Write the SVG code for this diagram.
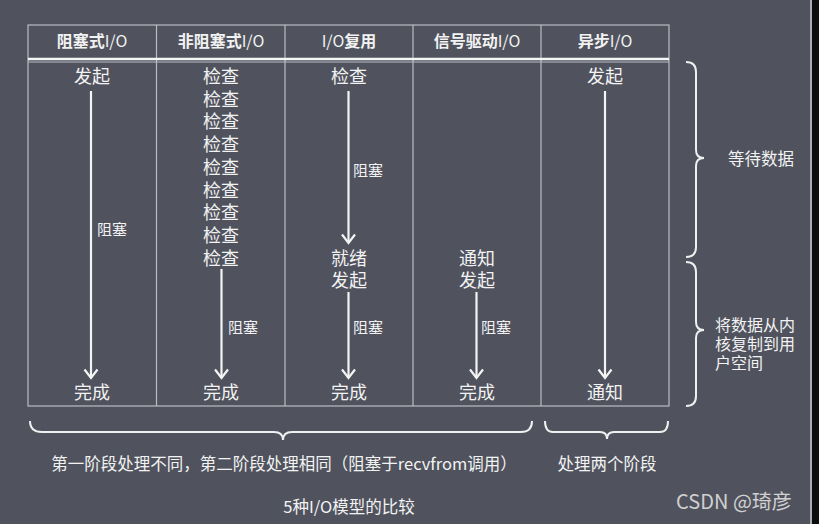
<svg xmlns="http://www.w3.org/2000/svg" width="819" height="524" viewBox="0 0 819 524">
<defs>
<style>
.t{font-family:"Noto Sans CJK SC","Noto Sans",sans-serif;fill:#f2f2f2;text-anchor:middle;dominant-baseline:central}
.k{font-family:"Liberation Sans","Noto Sans CJK SC",sans-serif}
.h{font-size:16px;font-weight:bold}
.b{font-size:18px}
.s{font-size:15px;text-anchor:start}
.c{font-size:16.5px}
.r{font-size:16px;text-anchor:start}
.grid{stroke:#b9bcc3;stroke-width:1.2;fill:none}
.arr{stroke:#f4f4f4;stroke-width:2.2;fill:none}
.br{stroke:#f0f0f0;stroke-width:2;fill:none}
</style>
<marker id="ah" viewBox="0 0 12 16" refX="10" refY="8" markerWidth="12" markerHeight="16" markerUnits="userSpaceOnUse" orient="auto">
<path d="M1.5,1.5 L10,8 L1.5,14.5" stroke="#f4f4f4" stroke-width="2.2" fill="none"/>
</marker>
</defs>
<rect x="0" y="0" width="819" height="524" fill="#50535e"/>
<rect x="812" y="0" width="7" height="524" fill="#0c0c0e"/>
<line x1="811" y1="0" x2="811" y2="524" stroke="#c8c8c8" stroke-width="1.5"/>

<g id="table">
<rect class="grid" x="28" y="25" width="641" height="381"/>
<line class="grid" x1="156.5" y1="25" x2="156.5" y2="406"/>
<line class="grid" x1="285" y1="25" x2="285" y2="406"/>
<line class="grid" x1="413" y1="25" x2="413" y2="406"/>
<line class="grid" x1="541" y1="25" x2="541" y2="406"/>
<line x1="28" y1="59" x2="669" y2="59" stroke="#f6f6f6" stroke-width="2.5"/>
<line x1="28" y1="62" x2="669" y2="62" stroke="#b9bcc3" stroke-width="1"/>
</g>

<g id="headers">
<text class="t h" x="92" y="40">阻塞式<tspan font-weight="normal">I/O</tspan></text>
<text class="t h" x="221" y="40">非阻塞式<tspan font-weight="normal">I/O</tspan></text>
<text class="t h" x="349" y="40"><tspan font-weight="normal">I/O</tspan>复用</text>
<text class="t h" x="477" y="40">信号驱动<tspan font-weight="normal">I/O</tspan></text>
<text class="t h" x="605" y="40">异步<tspan font-weight="normal">I/O</tspan></text>
</g>

<g id="col-blocking">
<text class="t b" x="92" y="75">发起</text>
<text class="t s" x="97" y="228">阻塞</text>
<text class="t b" x="92" y="391">完成</text>
</g>
<g id="col-nonblocking">
<text class="t b k" x="221" y="77"><tspan x="221">检查</tspan><tspan x="221" dy="22.7">检查</tspan><tspan x="221" dy="22.7">检查</tspan><tspan x="221" dy="22.7">检查</tspan><tspan x="221" dy="22.7">检查</tspan><tspan x="221" dy="22.7">检查</tspan><tspan x="221" dy="22.7">检查</tspan><tspan x="221" dy="22.7">检查</tspan><tspan x="221" dy="22.7">检查</tspan></text>
<text class="t s" x="228" y="326">阻塞</text>
<text class="t b" x="221" y="391">完成</text>
</g>
<g id="col-multiplex">
<text class="t b" x="349" y="75">检查</text>
<text class="t s" x="353" y="169">阻塞</text>
<text class="t b k" x="349" y="258.5"><tspan x="349">就绪</tspan><tspan x="349" dy="22.5">发起</tspan></text>
<text class="t s" x="353" y="326">阻塞</text>
<text class="t b" x="349" y="391">完成</text>
</g>
<g id="col-signal">
<text class="t b k" x="477" y="258.5"><tspan x="477">通知</tspan><tspan x="477" dy="22.5">发起</tspan></text>
<text class="t s" x="481" y="326">阻塞</text>
<text class="t b" x="477" y="391">完成</text>
</g>
<g id="col-async">
<text class="t b" x="605" y="75">发起</text>
<text class="t b" x="605" y="391">通知</text>
</g>

<g id="connectors">
<line class="arr" x1="91" y1="91" x2="91" y2="378" marker-end="url(#ah)"/>
<line class="arr" x1="221.5" y1="269" x2="221.5" y2="378" marker-end="url(#ah)"/>
<line class="arr" x1="348.5" y1="91" x2="348.5" y2="243" marker-end="url(#ah)"/>
<line class="arr" x1="348.5" y1="292" x2="348.5" y2="378" marker-end="url(#ah)"/>
<line class="arr" x1="476.5" y1="292" x2="476.5" y2="378" marker-end="url(#ah)"/>
<line class="arr" x1="605" y1="91" x2="605" y2="378" marker-end="url(#ah)"/>
</g>

<g id="brace-wait">
<path class="br" d="M686,62 Q696,62 696,72 L696,150 Q696,158 704,158 Q696,158 696,166 L696,247 Q696,257 686,257"/>
<text class="t c" x="761" y="158">等待数据</text>
</g>
<g id="brace-copy">
<path class="br" d="M686,262 Q696,262 696,272 L696,322 Q696,330 704,330 Q696,330 696,338 L696,396 Q696,406 686,406"/>
<text class="t r k" x="715" y="324.5"><tspan x="715">将数据从内</tspan><tspan x="715" dy="19">核复制到用</tspan><tspan x="715" dy="19">户空间</tspan></text>
</g>
<g id="brace-first">
<path class="br" d="M30,421 Q30,432 42,432 L274,432 Q283,432 283,440 Q283,432 292,432 L521,432 Q532,432 532,421"/>
<text class="t c" x="284" y="463">第一阶段处理不同，第二阶段处理相同（阻塞于recvfrom调用）</text>
</g>
<g id="brace-second">
<path class="br" d="M545,421 Q545,432 553,432 L600,432 Q607,432 607,439 Q607,432 614,432 L660,432 Q668,432 668,421"/>
<text class="t c" x="607" y="463">处理两个阶段</text>
</g>
<text class="t c" x="349" y="506">5种I/O模型的比较</text>
<text class="t" x="734" y="500" style="font-size:20px;fill:#d0d0d0">CSDN @琦彦</text>
</svg>
